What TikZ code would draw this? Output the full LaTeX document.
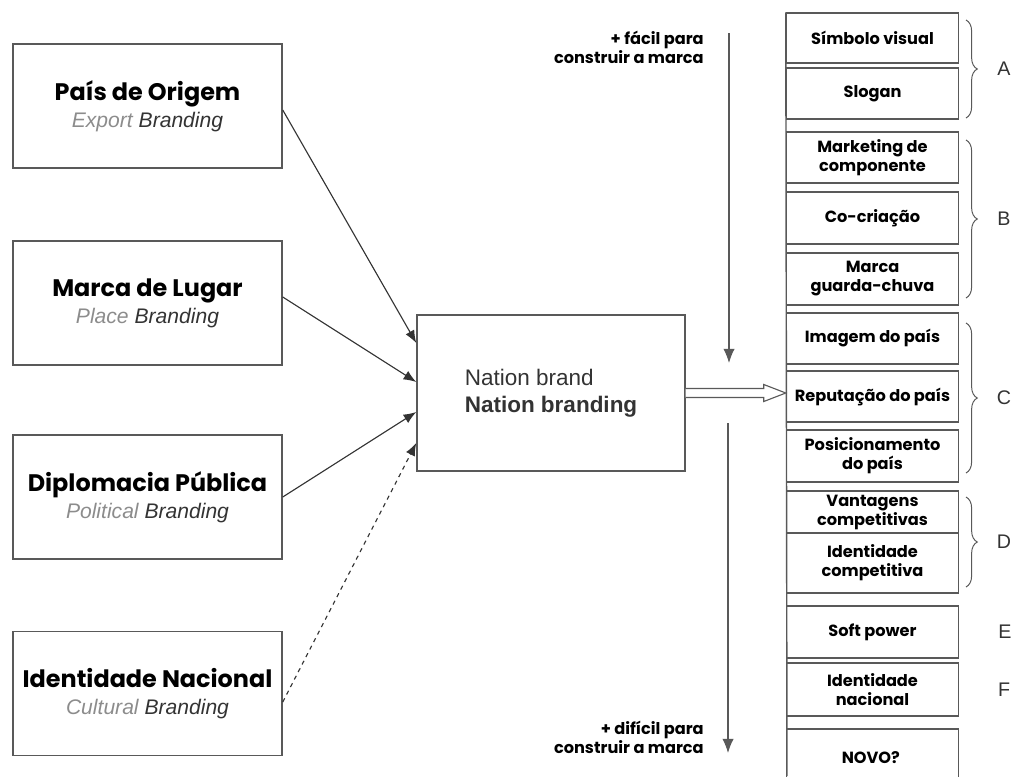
\documentclass[tikz,border=0pt]{standalone}
\usepackage{fontspec}
\setmainfont{Liberation Sans}
\newfontfamily\montfont{Poppins}
\usetikzlibrary{calc,decorations.pathreplacing,arrows.meta,positioning}
\definecolor{boxGray}{rgb}{0.35 0.35 0.35}
\definecolor{lightText}{rgb}{0.55 0.55 0.55}
\definecolor{darkText}{rgb}{0.2 0.2 0.2}

\begin{document}
\begin{tikzpicture}[x=0.025cm,y=-0.025cm,
  leftbox/.style={draw=boxGray,line width=1pt,minimum width=6.725cm,minimum height=3.1cm,align=center,font=\fontsize{15}{19}\selectfont},
  listbox/.style={draw=boxGray,line width=1pt,minimum width=4.3cm,inner sep=1pt,align=center,font=\montfont\bfseries\fontsize{11.5}{13.5}\selectfont},
  feed/.style={draw=darkText,line width=0.8pt,-{Latex[length=9pt,width=7pt]}},
  vflow/.style={draw=boxGray,line width=0.8pt,-{Latex[length=10pt,width=8pt]}},
  hint/.style={align=right,inner sep=0pt,font=\montfont\bfseries\fontsize{11.5}{13.5}\selectfont},
  letter/.style={text=darkText,inner sep=0pt,font=\fontsize{14}{14}\selectfont}
]

\useasboundingbox (0,0) rectangle (1018,776);

% draw the sources
\def\sources{
106/{País de Origem}/Export,
303/{Marca de Lugar}/Place,
497/{Diplomacia Pública}/Political,
693.5/{Identidade Nacional}/Cultural}
\foreach \yc/\title/\kind [count=\ni] in \sources
\node[leftbox] (src\ni) at (147.5,\yc) {{\montfont\bfseries\fontsize{17}{19}\selectfont \title}\\
  {\itshape\color{lightText}\kind{} \color{darkText}Branding}};

% the nation brand box
\node[draw=boxGray,line width=1pt,minimum width=6.7cm,minimum height=3.9cm,align=left,text=darkText,font=\fontsize{16}{19}\selectfont] (nb) at (551,393)
  {Nation brand\\ \textbf{Nation branding}};

% draw the arrows into the nation brand
\def\feeds{1/4/-50/solid, 2/-6/-11/solid, 3/0/19/solid, 4/8.5/50/dashed}
\foreach \ni/\from/\to/\st in \feeds
\draw[feed,\st] ($(src\ni.east)+(0,\from)$) -- ($(nb.west)+(0,\to)$);

% draw the list of tools
\def\tools{
13/63/{Símbolo visual},
68/119/{Slogan},
132/183/{Marketing de\\componente},
192/244/{Co-criação},
253/305/{Marca\\guarda-chuva},
313/364/{Imagem do país},
371/422/{Reputação do país},
430/482/{Posicionamento\\do país},
491/533/{Vantagens\\competitivas},
533/593/{Identidade\\competitiva},
606/658/{Soft power},
663/716/{Identidade\\nacional},
729/787/{NOVO?}
}
\foreach \top/\bot/\txt [count=\ni] in \tools
\node[listbox,minimum height={(\bot-\top)*0.025cm}] (r\ni) at (872.5,{(\top+\bot)/2}) {\txt};
\draw[boxGray,line width=1pt] (r1.north west) -- (787,776);

% the hollow arrow out of the nation brand
\draw[boxGray,line width=0.8pt,fill=white] ($(nb.east)+(0,-4.5)$) -- ($(nb.east -| r7.west)+(-22,-4.5)$)
  -- ($(nb.east -| r7.west)+(-22,-8.5)$) -- (nb.east -| r7.west) -- ($(nb.east -| r7.west)+(-22,8.5)$)
  -- ($(nb.east -| r7.west)+(-22,4.5)$) -- ($(nb.east)+(0,4.5)$);

% easy / hard arrows
\coordinate (easyTop) at (729,33);
\coordinate (easyEnd) at (729,363);
\coordinate (hardTop) at (728,423);
\coordinate (hardEnd) at (728,753);
\draw[vflow] (easyTop) -- (easyEnd);
\draw[vflow] (hardTop) -- (hardEnd);
\node[hint,anchor=east] (easy) at (704,47) {+ fácil para\\construir a marca};
\node[hint,anchor=east] (hard) at (704,737) {+ difícil para\\construir a marca};

% draw the braces and the group letters
\def\groups{A/20/118, B/140/298, C/323/473, D/497/587}
\foreach \l/\a/\b in \groups
{
\draw[boxGray,line width=0.7pt,decorate,decoration={brace,amplitude=8pt}] (966,\a) -- (966,\b);
\node[letter] (grp\l) at (1004,{(\a+\b)/2}) {\l};
}
\node[letter] (grpE) at (1005,632) {E};
\node[letter] (grpF) at (1004,690) {F};

\end{tikzpicture}
\end{document}
